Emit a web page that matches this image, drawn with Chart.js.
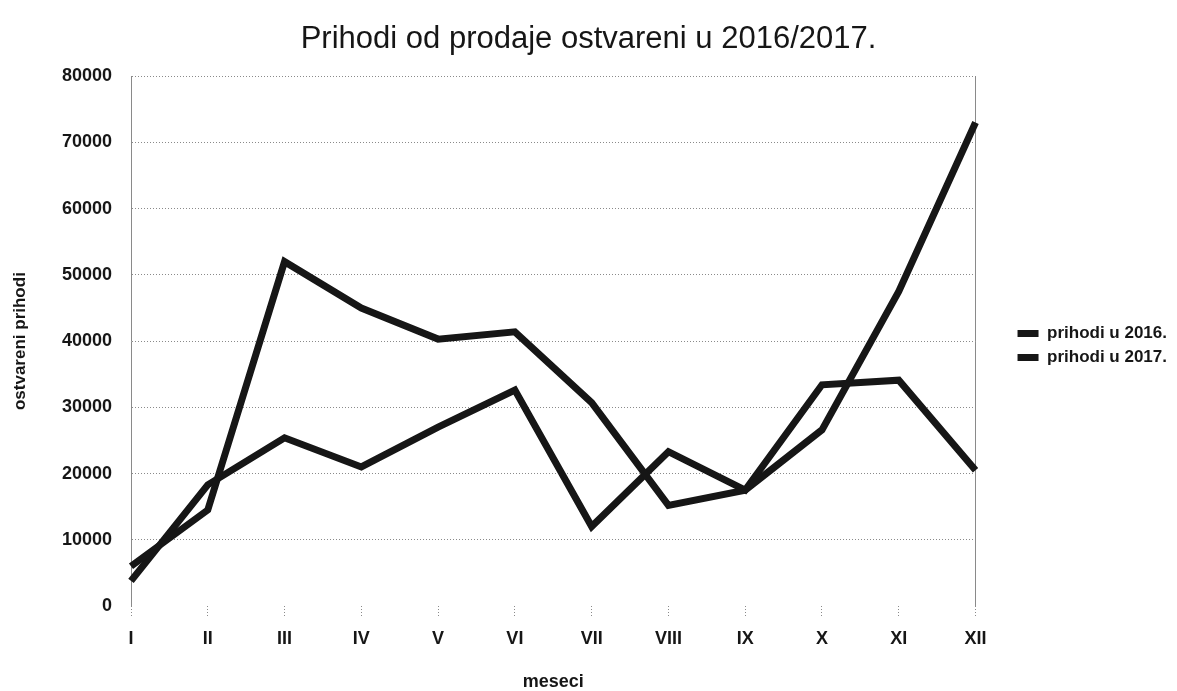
<!DOCTYPE html>
<html>
<head>
<meta charset="utf-8">
<script src="https://cdn.jsdelivr.net/npm/chart.js@4.4.1/dist/chart.umd.min.js"></script>
<style>
  html, body { margin: 0; padding: 0; background: #fff; }
  #wrap { width: 1177px; height: 691px; }
</style>
</head>
<body>
<div id="wrap"><canvas id="prihodiChart" width="1177" height="691"></canvas></div>
<script>
// podaci procitani sa grafikona
const meseci = ['I', 'II', 'III', 'IV', 'V', 'VI', 'VII', 'VIII', 'IX', 'X', 'XI', 'XII'];
const prihodi2016 = [6000, 14500, 52000, 45000, 40300, 41400, 30700, 15200, 17500, 26600, 47500, 73000];
const prihodi2017 = [3800, 18300, 25400, 21000, 27000, 32600, 12000, 23300, 17500, 33400, 34100, 20500];
const yTicks = [0, 10000, 20000, 30000, 40000, 50000, 60000, 70000, 80000];

const font = "'Liberation Sans', Arial, sans-serif";
const ink = '#161616';
const gridGray = '#8a8a8a';

const ctx = document.getElementById('prihodiChart').getContext('2d');
const chart = new Chart(ctx, {
  type: 'line',
  data: {
    labels: meseci,
    datasets: [
      {
        label: 'prihodi u 2016.',
        data: prihodi2016,
        borderColor: ink,
        backgroundColor: ink,
        borderWidth: 7,
        pointRadius: 0,
        tension: 0,
        borderJoinStyle: 'miter'
      },
      {
        label: 'prihodi u 2017.',
        data: prihodi2017,
        borderColor: ink,
        backgroundColor: ink,
        borderWidth: 7,
        pointRadius: 0,
        tension: 0,
        borderJoinStyle: 'miter'
      }
    ]
  },
  options: {
    responsive: false,
    animation: false,
    layout: { padding: 0 },
    plugins: {
      title: {
        display: true,
        text: 'Prihodi od prodaje ostvareni u 2016/2017.',
        color: ink,
        font: { family: font, size: 31, weight: 'normal', lineHeight: 1.2 },
        padding: { top: 21, bottom: 18 }
      },
      legend: {
        position: 'right',
        labels: {
          color: ink,
          font: { family: font, size: 17, weight: 'bold' },
          usePointStyle: true,
          pointStyle: 'line',
          pointStyleWidth: 21,
          padding: 7
        }
      },
      tooltip: { enabled: false }
    },
    scales: {
      x: {
        offset: false,
        grid: {
          drawOnChartArea: false,
          tickColor: gridGray,
          tickLength: 12,
          tickBorderDash: [1, 2]
        },
        border: { display: false },
        ticks: {
          color: ink,
          font: { family: font, size: 18, weight: 'bold' },
          padding: 10,
          maxRotation: 0,
          autoSkip: false
        },
        title: {
          display: true,
          text: 'meseci',
          color: ink,
          font: { family: font, size: 18, weight: 'bold', lineHeight: 1 },
          padding: { top: 16, bottom: 0 }
        },
        afterFit: s => { s.height = 85; }
      },
      y: {
        min: 0,
        max: 80000,
        afterBuildTicks: s => { s.ticks = yTicks.map(v => ({ value: v })); },
        grid: {
          color: c => c.tick && c.tick.value === 0 ? 'transparent' : gridGray,
          borderDash: [1, 2],
          drawTicks: false,
          lineWidth: 1
        },
        border: { display: true, color: gridGray, dash: [1, 2] },
        ticks: {
          color: ink,
          font: { family: font, size: 18, weight: 'bold' },
          padding: 19,
          callback: v => String(v)
        },
        title: {
          display: true,
          text: 'ostvareni prihodi',
          color: ink,
          font: { family: font, size: 17, weight: 'bold' },
          padding: { top: 10, bottom: 0 }
        },
        afterFit: s => { s.width = 131; }
      },
      y2: {
        position: 'right',
        min: 0,
        max: 80000,
        grid: { display: false },
        ticks: { display: false },
        border: { display: true, color: gridGray, dash: [1, 2] },
        afterFit: s => { s.width = 35; }
      }
    }
  }
});
</script>
</body>
</html>
